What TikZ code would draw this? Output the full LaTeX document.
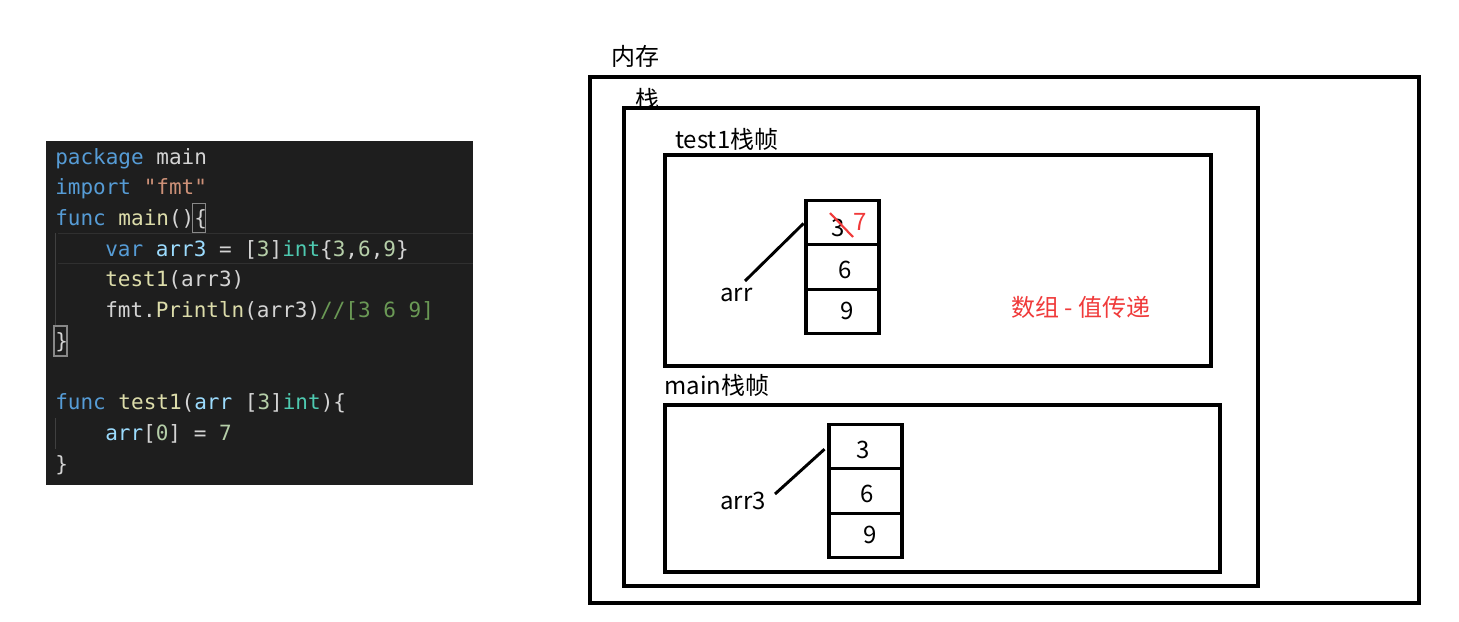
\documentclass[tikz,border=0pt]{standalone}
\usepackage{fontspec}
\setmonofont{DejaVu Sans Mono}
\newfontfamily\cjk{Noto Sans CJK SC}

% editor colour theme
\definecolor{codebg}{HTML}{1E1E1E}
\definecolor{fg}{HTML}{D4D4D4}
\definecolor{kw}{HTML}{569CD6}
\definecolor{fn}{HTML}{DCDCAA}
\definecolor{str}{HTML}{CE9178}
\definecolor{vr}{HTML}{9CDCFE}
\definecolor{ty}{HTML}{4EC9B0}
\definecolor{num}{HTML}{B5CEA8}
\definecolor{cm}{HTML}{6A9955}
\definecolor{curline}{HTML}{303030}
\definecolor{guide}{HTML}{404040}
\definecolor{brbox}{HTML}{888888}
\definecolor{note}{HTML}{F03A3A}

\begin{document}
\begin{tikzpicture}[x=0.75pt,y=-0.75pt,
  code/.style={anchor=base west, inner sep=0, text=fg,
    font=\ttfamily\fontsize{15.75}{18}\selectfont},
  lbl/.style={anchor=base west, inner sep=0, font=\cjk\fontsize{18}{21}\selectfont},
  num/.style={anchor=base, inner sep=0, font=\cjk\fontsize{18}{21}\selectfont},
  frame/.style={draw=black, line width=2.3pt},
  cell/.style={draw=black, line width=2.3pt, minimum width=54.75pt,
    minimum height=33.4pt, inner sep=0},
  link/.style={draw=black, line width=2.2pt}]

\useasboundingbox (0,0) rectangle (1459,621);
\fill[white] (0,0) rectangle (1459,621);

% ---------------- source code panel ----------------
\fill[codebg] (46,141) rectangle (473,485);
\draw[curline, line width=1pt] (58,233.5) -- (473,233.5) (58,263.5) -- (473,263.5);
\draw[guide, line width=1pt] (55.5,233) -- (55.5,325) (55.5,418) -- (55.5,449);
\draw[brbox, line width=0.8pt] (192.5,203.5) rectangle (205.5,232.5);
\draw[brbox, line width=0.8pt] (54,326) rectangle (67,356);

\node[code] (l1) at (55,164) {{\color{kw}package} main};
\node[code] (l2) at (55,194.7) {{\color{kw}import} {\color{str}"fmt"}};
\node[code] (l3) at (55,225.4) {{\color{kw}func} {\color{fn}main}()\{};
\node[code] (l4) at (105,256.1) {{\color{kw}var} {\color{vr}arr3} = [{\color{num}3}]{\color{ty}int}\{{\color{num}3},{\color{num}6},{\color{num}9}\}};
\node[code] (l5) at (105,286.8) {{\color{fn}test1}(arr3)};
\node[code] (l6) at (105,317.5) {fmt.{\color{fn}Println}(arr3){\color{cm}//[3 6 9]}};
\node[code] (l7) at (55,348.2) {\}};
\node[code] (l8) at (55,409.6) {{\color{kw}func} {\color{fn}test1}({\color{vr}arr} [{\color{num}3}]{\color{ty}int})\{};
\node[code] (l9) at (105,440.3) {{\color{vr}arr}[{\color{num}0}] = {\color{num}7}};
\node[code] (l10) at (55,471) {\}};

% ---------------- memory diagram ----------------
\draw[frame] (590,77) rectangle (1419,603);
\draw[frame] (624,108) rectangle (1258,586);
\draw[frame] (665,155) rectangle (1211,366);
\draw[frame] (665,405) rectangle (1220,572);

\node[lbl] (mem) at (611,65) {内存};
\node[lbl] (stk) at (635,108) {栈};
\node[lbl] (f1) at (675,148) {test1栈帧};
\node[lbl] (f2) at (664,394) {main栈帧};

% array of test1
\node[cell] (t1) at (842.5,222.5) {};
\node[cell] (t2) at (842.5,267) {};
\node[cell] (t3) at (842.5,311.5) {};
\node[num] (t1old) at (838,236) {3};
\node[num, text=note] (t1new) at (860,230) {7};
\draw[note, line width=1.6pt] (830,213) -- (853,237);
\node[num] (t2v) at (845,278) {6};
\node[num] (t3v) at (847,319) {9};
\node[lbl] (arr) at (720,301) {arr};
\coordinate (arrtip) at (745,281);
\draw[link, shorten >=1pt] (arrtip) -- (t1.west);

\node[lbl, text=note] (cap) at (1011,316) {数组 - 值传递};

% array of main
\node[cell] (m1) at (865.5,446.5) {};
\node[cell] (m2) at (865.5,491) {};
\node[cell] (m3) at (865.5,535.5) {};
\node[num] (m1v) at (863,458) {3};
\node[num] (m2v) at (867,502) {6};
\node[num] (m3v) at (870,543) {9};
\node[lbl] (arr3) at (720,509) {arr3};
\coordinate (arr3tip) at (775,494);
\draw[link, shorten >=3pt] (arr3tip) -- (m1.west);
\end{tikzpicture}
\end{document}
